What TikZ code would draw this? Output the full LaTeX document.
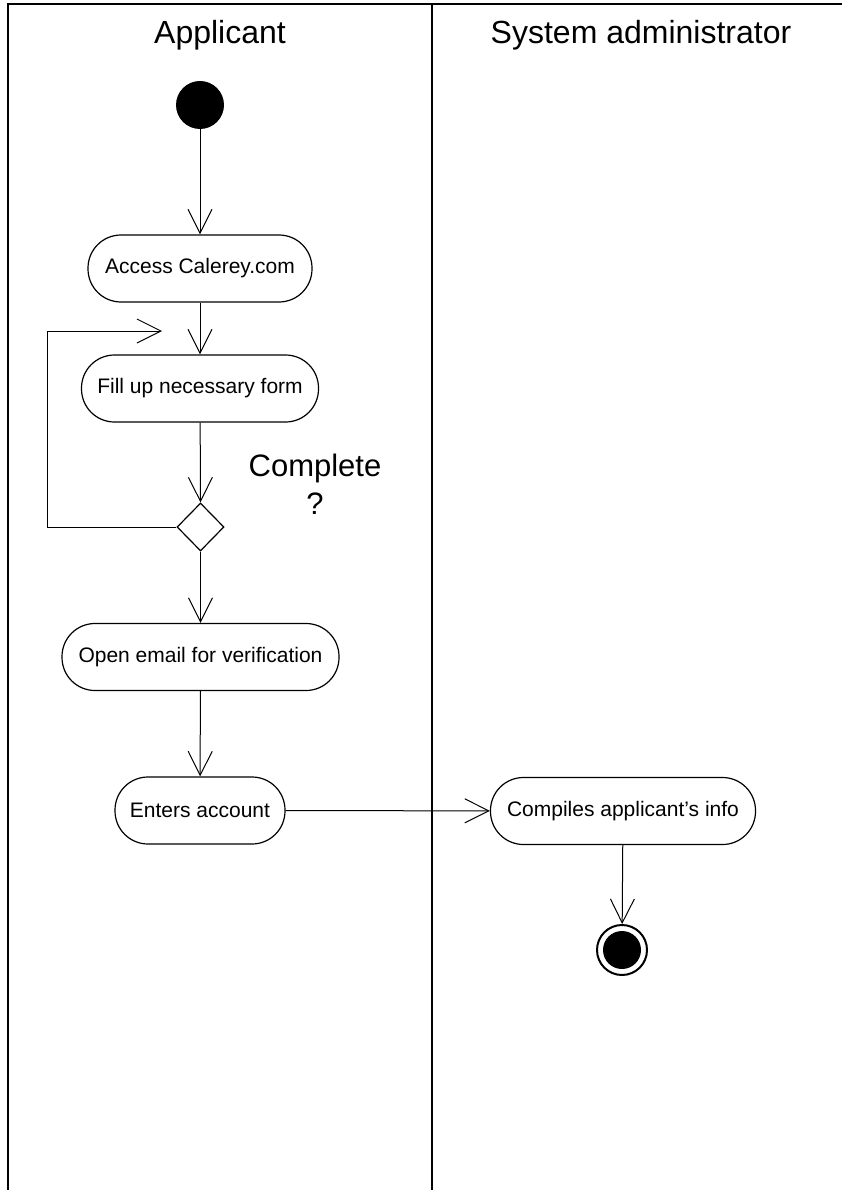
\documentclass[tikz,border=0pt]{standalone}
\usepackage{fontspec}
\setmainfont{Liberation Sans}
\usetikzlibrary{arrows.meta,shapes.geometric}
\begin{document}
\begin{tikzpicture}[x=1pt,y=-1pt,
  act/.style={rectangle, rounded corners=33pt, draw, line width=1.2pt, minimum height=67pt, inner xsep=0pt, font=\fontsize{21}{25}\selectfont},
  flow/.style={line width=1pt, -{Straight Barb[length=24pt,width=24pt,line width=1pt]}},
  lane/.style={line width=2pt},
  hdr/.style={font=\fontsize{32}{38}\selectfont}]
\useasboundingbox (0,0) rectangle (842,1190);
% swimlanes
\draw[lane] (842,4) -- (8,4) -- (8,1190);
\draw[lane] (432,4) -- (432,1190);
\node[hdr] (h1) at (220,35) {Applicant};
\node[hdr] (h2) at (641,35) {System administrator};
% nodes
\node[circle, fill, minimum size=48pt, inner sep=0pt] (start) at (200,105) {};
\node[act, minimum width=224pt] (access) at (200,268.5) {Access Calerey.com};
\node[act, minimum width=237pt] (fill) at (200,388.5) {Fill up necessary form};
\node[diamond, draw, line width=1.2pt, minimum width=47pt, minimum height=48pt, inner sep=0pt] (dec) at (200.5,527) {};
\node[font=\fontsize{31}{38}\selectfont, align=center] (q) at (315,484) {Complete\\?};
\node[act, minimum width=277pt] (email) at (200.5,657) {Open email for verification};
\node[act, minimum width=170pt] (enter) at (200,810.5) {Enters account};
\node[act, minimum width=265pt] (comp) at (623,811) {Compiles applicant's info};
\node[circle, draw, line width=2pt, minimum size=50pt, inner sep=0pt] (end) at (622,950) {};
\node[circle, fill, minimum size=38pt, inner sep=0pt] (endin) at (end) {};
% connectors
\draw[flow] (start) -- (access);
\draw[flow] (access) -- (fill);
\draw[flow] (fill) -- (dec.north);
\draw[flow] (dec) -- (email);
\draw[flow] (email) -- (enter);
\draw[flow] (enter) -- (comp);
\draw[flow] (comp) -- (end);
\coordinate (lb) at (47,527);
\coordinate (lt) at (162,331);
\draw[flow] (dec.west) -- (lb) |- (lt);
\end{tikzpicture}
\end{document}
